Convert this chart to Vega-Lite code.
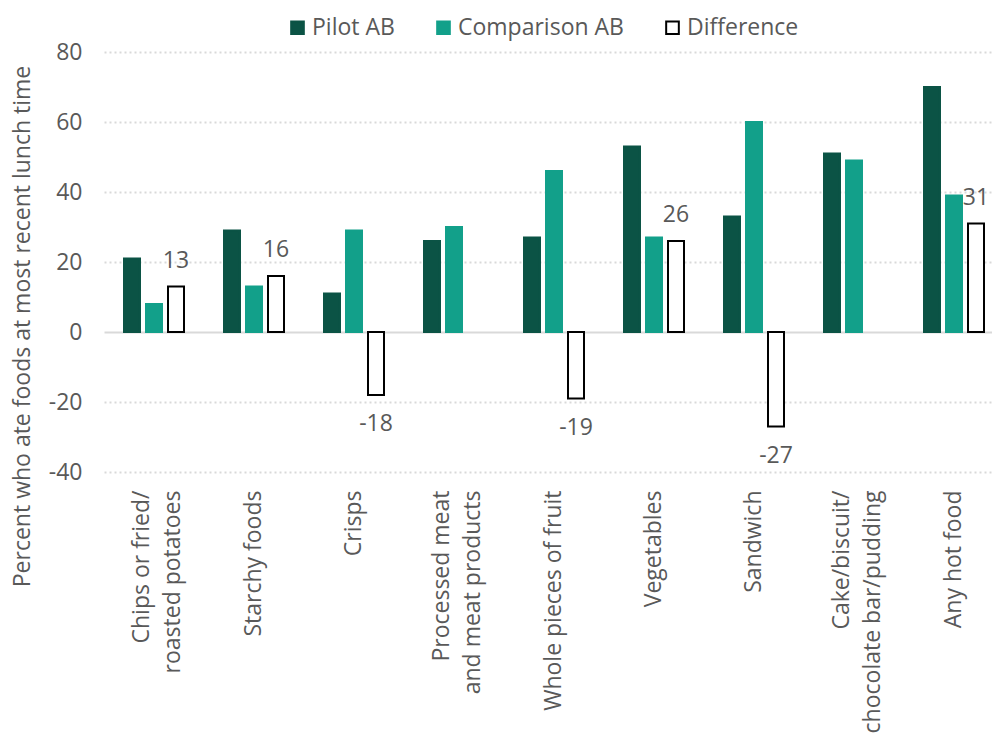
{
  "$schema": "https://vega.github.io/schema/vega-lite/v6.json",
  "width": 888,
  "height": 420,
  "autosize": "none",
  "padding": {"left": 104, "top": 52, "right": 0, "bottom": 261},
  "config": {
    "font": "Open Sans",
    "view": {"stroke": null},
    "legend": {"padding": 0}
  },
  "data": {
    "values": [
      {"food": "Chips or fried/|roasted potatoes", "series": "Pilot AB", "value": 21},
      {"food": "Chips or fried/|roasted potatoes", "series": "Comparison AB", "value": 8},
      {"food": "Chips or fried/|roasted potatoes", "series": "Difference", "value": 13},
      {"food": "Starchy foods", "series": "Pilot AB", "value": 29},
      {"food": "Starchy foods", "series": "Comparison AB", "value": 13},
      {"food": "Starchy foods", "series": "Difference", "value": 16},
      {"food": "Crisps", "series": "Pilot AB", "value": 11},
      {"food": "Crisps", "series": "Comparison AB", "value": 29},
      {"food": "Crisps", "series": "Difference", "value": -18},
      {"food": "Processed meat|and meat products", "series": "Pilot AB", "value": 26},
      {"food": "Processed meat|and meat products", "series": "Comparison AB", "value": 30},
      {"food": "Whole pieces of fruit", "series": "Pilot AB", "value": 27},
      {"food": "Whole pieces of fruit", "series": "Comparison AB", "value": 46},
      {"food": "Whole pieces of fruit", "series": "Difference", "value": -19},
      {"food": "Vegetables", "series": "Pilot AB", "value": 53},
      {"food": "Vegetables", "series": "Comparison AB", "value": 27},
      {"food": "Vegetables", "series": "Difference", "value": 26},
      {"food": "Sandwich", "series": "Pilot AB", "value": 33},
      {"food": "Sandwich", "series": "Comparison AB", "value": 60},
      {"food": "Sandwich", "series": "Difference", "value": -27},
      {"food": "Cake/biscuit/|chocolate bar/pudding", "series": "Pilot AB", "value": 51},
      {"food": "Cake/biscuit/|chocolate bar/pudding", "series": "Comparison AB", "value": 49},
      {"food": "Any hot food", "series": "Pilot AB", "value": 70},
      {"food": "Any hot food", "series": "Comparison AB", "value": 39},
      {"food": "Any hot food", "series": "Difference", "value": 31}
    ]
  },
  "encoding": {
    "x": {
      "field": "food",
      "type": "nominal",
      "sort": null,
      "scale": {"range": [0, 900], "paddingInner": 0, "paddingOuter": 0},
      "axis": {
        "title": null,
        "labelAngle": -90,
        "domain": false,
        "ticks": false,
        "labelPadding": 18,
        "labelFontSize": 23,
        "labelColor": "#595959",
        "labelLineHeight": 31,
        "labelLimit": 0,
        "labelOffset": {"condition": {"test": "indexof(datum.value, '|') >= 0", "value": -12}, "value": 0},
        "labelExpr": "split(datum.label, '|')"
      }
    },
    "xOffset": {
      "field": "series",
      "type": "nominal",
      "scale": {"domain": ["Pilot AB", "Comparison AB", "Difference"], "paddingInner": 0.273, "paddingOuter": 0.909}
    },
    "y": {
      "field": "value",
      "type": "quantitative",
      "scale": {"domain": [-40, 80], "nice": false},
      "axis": {
        "values": [-40, -20, 0, 20, 40, 60, 80],
        "labelExpr": "toString(datum.value)",
        "title": "Percent who ate foods at most recent lunch time",
        "titleFontSize": 23,
        "titleFontWeight": "normal",
        "titleColor": "#595959",
        "titleAngle": -90,
        "titleX": -82,
        "titleY": 274,
        "titleAlign": "center",
        "titleBaseline": "middle",
        "domain": false,
        "ticks": false,
        "labelFontSize": 23,
        "labelColor": "#595959",
        "labelPadding": 22,
        "grid": true,
        "gridColor": "#d9d9d9",
        "gridWidth": 2,
        "gridDash": {"condition": {"test": "datum.value === 0", "value": []}, "value": [2, 3]}
      }
    }
  },
  "layer": [
    {
      "mark": {"type": "bar", "strokeWidth": 2},
      "encoding": {
        "fill": {
          "field": "series",
          "type": "nominal",
          "scale": {"domain": ["Pilot AB", "Comparison AB", "Difference"], "range": ["#0B5345", "#12A08A", "#ffffff"]},
          "legend": {
            "title": null,
            "orient": "none",
            "direction": "horizontal",
            "legendX": 182,
            "legendY": -36,
            "symbolType": "square",
            "symbolSize": 160,
            "symbolStrokeWidth": 2,
            "labelFontSize": 23,
            "labelColor": "#595959",
            "labelOffset": 3,
            "labelLimit": 0,
            "columnPadding": 37
          }
        },
        "stroke": {
          "field": "series",
          "type": "nominal",
          "scale": {"domain": ["Pilot AB", "Comparison AB", "Difference"], "range": ["#0B5345", "#12A08A", "#000000"]},
          "legend": {
            "title": null,
            "orient": "none",
            "direction": "horizontal",
            "legendX": 182,
            "legendY": -36,
            "symbolType": "square",
            "symbolSize": 160,
            "symbolStrokeWidth": 2,
            "labelFontSize": 23,
            "labelColor": "#595959",
            "labelOffset": 3,
            "labelLimit": 0,
            "columnPadding": 37
          }
        }
      }
    },
    {
      "transform": [{"filter": "datum.series === 'Difference' && datum.value > 0"}],
      "mark": {"type": "text", "baseline": "bottom", "dy": -14, "fontSize": 23, "color": "#595959"},
      "encoding": {"text": {"field": "value", "type": "nominal"}}
    },
    {
      "transform": [{"filter": "datum.series === 'Difference' && datum.value < 0"}],
      "mark": {"type": "text", "baseline": "top", "dy": 18, "fontSize": 23, "color": "#595959"},
      "encoding": {"text": {"field": "value", "type": "nominal"}}
    }
  ]
}
